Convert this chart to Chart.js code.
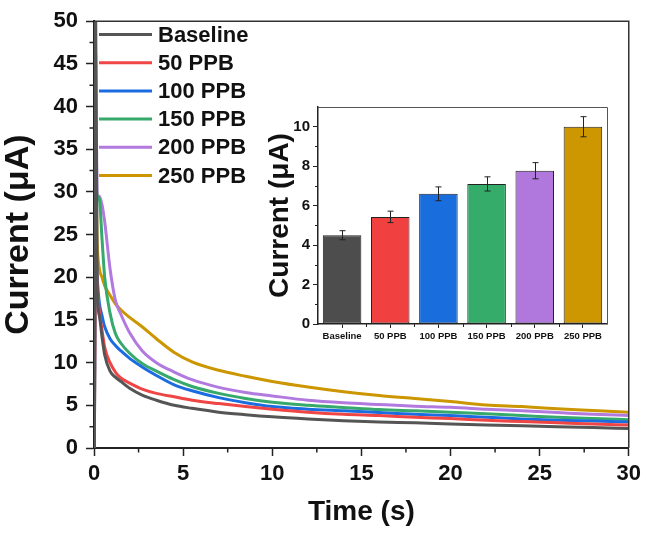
<!DOCTYPE html>
<html>
<head>
<meta charset="utf-8">
<script src="https://cdn.jsdelivr.net/npm/chart.js@4.4.1/dist/chart.umd.min.js"></script>
<style>
  html, body { margin: 0; padding: 0; background: #fff; }
  #wrap { position: relative; width: 646px; height: 533px; }
  #main { position: absolute; left: 0; top: 0; }
  #inset { position: absolute; left: 260px; top: 95px; }
</style>
</head>
<body>
<div id="wrap">
  <canvas id="main" width="646" height="533"></canvas>
  <canvas id="inset" width="360" height="260"></canvas>
</div>
<script>
// ---------- main chart data (time in s, current in µA) ----------
const times    = [0.02, 0.09, 0.18, 0.3, 0.45, 0.6, 0.9, 1.2, 1.5, 2, 2.7, 3.5, 4.5, 5.5, 7, 8.5, 10, 12, 14, 16, 18, 20, 22, 24, 26, 28, 30];
const baseline = [0, 52, 19, 15.5, 13, 10.9, 9.0, 8.3, 7.8, 7.0, 6.2, 5.6, 5.0, 4.65, 4.2, 3.9, 3.65, 3.4, 3.2, 3.05, 2.95, 2.82, 2.7, 2.6, 2.5, 2.4, 2.27];
const ppb50    = [0, 24, 19, 16, 13.8, 11.8, 10.0, 8.9, 8.2, 7.6, 6.9, 6.4, 6.0, 5.6, 5.2, 4.85, 4.55, 4.2, 3.95, 3.8, 3.6, 3.45, 3.25, 3.1, 2.95, 2.8, 2.68];
const ppb100   = [0, 24, 20, 17, 15.5, 14.2, 12.8, 12.0, 11.4, 10.5, 9.5, 8.5, 7.4, 6.7, 5.9, 5.3, 4.85, 4.55, 4.35, 4.15, 3.95, 3.8, 3.6, 3.4, 3.25, 3.15, 3.05];
const ppb150   = [0, 31, 29.5, 29.2, 24.5, 20, 15.8, 13.4, 12.3, 11.1, 9.9, 9.0, 8.0, 7.2, 6.4, 5.8, 5.35, 5.0, 4.75, 4.5, 4.35, 4.2, 4.0, 3.8, 3.6, 3.45, 3.31];
const ppb200   = [0, 46.2, 29.5, 29.5, 28.5, 26.5, 21, 17.3, 15.7, 13.5, 11.4, 10.0, 8.9, 8.0, 7.1, 6.5, 6.1, 5.6, 5.3, 5.1, 4.9, 4.77, 4.55, 4.35, 4.15, 3.95, 3.81];
const ppb250   = [0, 33, 24, 21, 20, 19, 17.9, 16.9, 16.2, 15.3, 14.2, 12.8, 11.2, 10.1, 9.1, 8.4, 7.8, 7.15, 6.6, 6.15, 5.8, 5.45, 5.05, 4.85, 4.6, 4.4, 4.2];
const seriesLabels = ['Baseline', '50 PPB', '100 PPB', '150 PPB', '200 PPB', '250 PPB'];
const seriesValues = [baseline, ppb50, ppb100, ppb150, ppb200, ppb250];
const lineColors   = ['#555555', '#f04545', '#1b6ce0', '#36a96b', '#b27adf', '#cc9600'];

// ---------- inset bar data ----------
const barCategories = ['Baseline', '50 PPB', '100 PPB', '150 PPB', '200 PPB', '250 PPB'];
const barValues     = [4.5, 5.43, 6.6, 7.1, 7.77, 10.0];
const barErrors     = [0.23, 0.29, 0.35, 0.36, 0.41, 0.51];
const barColors     = ['#4d4d4d', '#f04040', '#1a6ddc', '#36ac6b', '#b077dc', '#cc9700'];

const FONT = "'Liberation Sans', Arial, Helvetica, sans-serif";
Chart.defaults.font.family = FONT;
Chart.defaults.color = '#111';

// ---------- main chart ----------
const mainPlugin = {
  id: 'mainDecor',
  afterDraw(chart) {
    const ctx = chart.ctx;
    const a = chart.chartArea;
    const xs = chart.scales.x, ys = chart.scales.y;
    ctx.save();
    ctx.strokeStyle = '#333';
    ctx.lineWidth = 1.5;
    ctx.beginPath();
    ctx.moveTo(a.left, a.top); ctx.lineTo(a.right, a.top); ctx.lineTo(a.right, a.bottom);
    ctx.stroke();
    ctx.strokeStyle = '#222';
    ctx.lineWidth = 1.5;
    ctx.beginPath();
    for (let v = 2.5; v < 30; v += 5) {
      const px = xs.getPixelForValue(v);
      ctx.moveTo(px, a.bottom); ctx.lineTo(px, a.bottom + 4.5);
    }
    for (let v = 2.5; v < 50; v += 5) {
      const py = ys.getPixelForValue(v);
      ctx.moveTo(a.left, py); ctx.lineTo(a.left - 4.5, py);
    }
    ctx.stroke();
    ctx.font = 'bold 22px ' + FONT;
    ctx.textBaseline = 'middle';
    ctx.textAlign = 'left';
    chart.data.datasets.forEach((ds, i) => {
      const y = 34.5 + i * 28.2;
      ctx.strokeStyle = ds.borderColor;
      ctx.lineWidth = 3;
      ctx.beginPath();
      ctx.moveTo(99, y); ctx.lineTo(152, y);
      ctx.stroke();
      ctx.fillStyle = '#111';
      ctx.fillText(ds.label, 158, y + 1);
    });
    ctx.restore();
  }
};

new Chart(document.getElementById('main'), {
  type: 'line',
  data: {
    datasets: seriesLabels.map((lab, i) => ({
      label: lab,
      data: times.map((t, j) => ({ x: t, y: seriesValues[i][j] })),
      borderColor: lineColors[i],
      backgroundColor: lineColors[i],
      borderWidth: 3,
      pointRadius: 0,
      cubicInterpolationMode: 'monotone',
      fill: false
    }))
  },
  options: {
    responsive: false,
    animation: false,
    devicePixelRatio: 1,
    layout: { padding: { left: 0, right: 14, top: 15, bottom: 0 } },
    plugins: { legend: { display: false }, tooltip: { enabled: false } },
    scales: {
      x: {
        type: 'linear', min: 0, max: 30,
        ticks: { stepSize: 5, font: { size: 22, weight: 'bold' }, color: '#111', padding: 5, maxRotation: 0 },
        grid: { drawOnChartArea: false, tickLength: 8, tickWidth: 1.5, tickColor: '#222' },
        border: { color: '#222', width: 2 },
        title: { display: true, text: 'Time (s)', font: { size: 28, weight: 'bold' }, color: '#111', padding: { top: 0, bottom: 4 } },
        afterFit(s) { s.height = 85; }
      },
      y: {
        type: 'linear', min: 0, max: 50,
        ticks: { stepSize: 5, font: { size: 22, weight: 'bold' }, color: '#111', padding: 8 },
        grid: { drawOnChartArea: false, tickLength: 8, tickWidth: 1.5, tickColor: '#222' },
        border: { color: '#222', width: 2 },
        title: { display: true, text: 'Current (μA)', font: { size: 34, weight: 'bold', lineHeight: 1.1 }, color: '#111', padding: { top: 0, bottom: 0 } },
        afterFit(s) { s.width = 94; }
      }
    }
  },
  plugins: [mainPlugin]
});

// ---------- inset bar chart ----------
const insetPlugin = {
  id: 'insetDecor',
  afterDatasetsDraw(chart) {
    const ctx = chart.ctx;
    const ys = chart.scales.y;
    const meta = chart.getDatasetMeta(0);
    ctx.save();
    ctx.strokeStyle = '#222';
    ctx.lineWidth = 1;
    ctx.beginPath();
    meta.data.forEach((bar, i) => {
      const x = Math.round(bar.x) + 0.5;
      const yTop = ys.getPixelForValue(barValues[i] + barErrors[i]);
      const yBot = ys.getPixelForValue(barValues[i] - barErrors[i]);
      ctx.moveTo(x, yTop); ctx.lineTo(x, yBot);
      ctx.moveTo(x - 3, yTop); ctx.lineTo(x + 3, yTop);
      ctx.moveTo(x - 3, yBot); ctx.lineTo(x + 3, yBot);
    });
    ctx.stroke();
    ctx.restore();
  },
  afterDraw(chart) {
    const ctx = chart.ctx;
    const a = chart.chartArea;
    const xs = chart.scales.x, ys = chart.scales.y;
    ctx.save();
    ctx.strokeStyle = '#555';
    ctx.lineWidth = 1;
    ctx.beginPath();
    ctx.moveTo(a.left, a.top + 0.5); ctx.lineTo(a.right + 0.5, a.top + 0.5); ctx.lineTo(a.right + 0.5, a.bottom);
    ctx.stroke();
    ctx.strokeStyle = '#222';
    ctx.beginPath();
    for (let v = 1; v < 11; v += 2) {
      const py = Math.round(ys.getPixelForValue(v)) + 0.5;
      ctx.moveTo(a.left, py); ctx.lineTo(a.left - 3, py);
    }
    const n = barCategories.length;
    for (let i = 0; i < n - 1; i++) {
      const px = Math.round((xs.getPixelForValue(i) + xs.getPixelForValue(i + 1)) / 2) + 0.5;
      ctx.moveTo(px, a.bottom); ctx.lineTo(px, a.bottom + 3);
    }
    ctx.stroke();
    ctx.restore();
  }
};

new Chart(document.getElementById('inset'), {
  type: 'bar',
  data: {
    labels: barCategories,
    datasets: [{
      label: 'Current',
      data: barValues,
      backgroundColor: barColors,
      borderColor: '#222',
      borderWidth: 1,
      borderSkipped: false,
      categoryPercentage: 1,
      barPercentage: 0.8
    }]
  },
  options: {
    responsive: false,
    animation: false,
    devicePixelRatio: 1,
    layout: { padding: { left: 0, right: 13, top: 9, bottom: 0 } },
    plugins: { legend: { display: false }, tooltip: { enabled: false } },
    scales: {
      x: {
        ticks: { font: { size: 9.5, weight: 'bold' }, color: '#111', padding: 3, maxRotation: 0, autoSkip: false },
        grid: { offset: false, drawOnChartArea: false, tickLength: 4, tickWidth: 1, tickColor: '#222' },
        border: { color: '#222', width: 1.5 },
        afterFit(s) { s.height = 31; }
      },
      y: {
        min: 0, max: 11,
        ticks: { stepSize: 2, includeBounds: false, font: { size: 15, weight: 'bold' }, color: '#111', padding: 3 },
        grid: { drawOnChartArea: false, tickLength: 5, tickWidth: 1, tickColor: '#222' },
        border: { color: '#222', width: 1.5 },
        title: { display: true, text: 'Current (μA)', font: { size: 28, weight: 'bold', lineHeight: 1.1 }, color: '#111', padding: { top: 4.6, bottom: 0 } },
        afterFit(s) { s.width = 58; }
      }
    }
  },
  plugins: [insetPlugin]
});
</script>
</body>
</html>
